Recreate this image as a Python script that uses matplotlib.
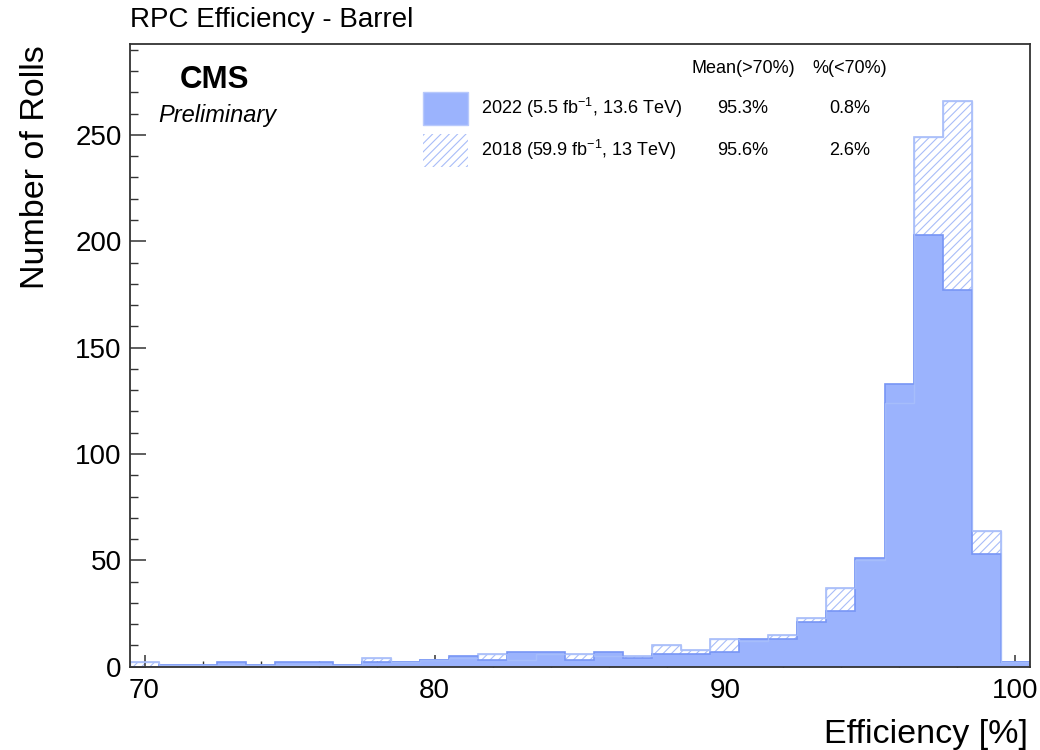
import matplotlib
matplotlib.use("Agg")
import matplotlib.pyplot as plt
from matplotlib.patches import Rectangle
from matplotlib.ticker import MultipleLocator
import numpy as np

plt.rcParams['font.family'] = ['Liberation Sans', 'DejaVu Sans']
plt.rcParams['mathtext.fontset'] = 'custom'
plt.rcParams['mathtext.rm'] = 'Liberation Sans'
plt.rcParams['mathtext.it'] = 'Liberation Sans:italic'
plt.rcParams['hatch.linewidth'] = 0.8

# efficiency bins (centres, 1% wide)
bin_centers = list(range(70, 101))

# number of rolls per bin
rolls_2022 = [0, 1, 1, 2, 1, 2, 2, 1, 2, 2, 3, 5, 3, 7, 7, 3, 7, 4, 6, 6,
              7, 13, 13, 21, 26, 51, 133, 203, 177, 53, 2]
rolls_2018 = [2, 1, 1, 1, 1, 1, 1, 1, 4, 2, 3, 4, 6, 3, 6, 6, 5, 5, 10, 8,
              13, 12, 15, 23, 37, 50, 124, 249, 266, 64, 2]

labels = ["2022 (5.5 fb$^{-1}$, 13.6 TeV)", "2018 (59.9 fb$^{-1}$, 13 TeV)"]
mean_above = ["95.3%", "95.6%"]
frac_below = ["0.8%", "2.6%"]

fill_col = '#9bb3fd'
fill_edge = '#7795f5'
hatch_col = '#a9bdf8'

edges = np.array(bin_centers + [bin_centers[-1] + 1]) - 0.5

fig = plt.figure(figsize=(10.4, 7.5), dpi=100)
ax = fig.add_axes([0.125, 0.111, 0.865, 0.830])

# 2018: hatched, drawn underneath
ax.bar(bin_centers, rolls_2018, width=1.0, facecolor='none', edgecolor=hatch_col,
       hatch='////', linewidth=0, zorder=1)
ax.stairs(rolls_2018, edges, baseline=0, color=hatch_col, lw=1.2, zorder=2)

# 2022: solid fill on top
ax.stairs(rolls_2022, edges, baseline=0, fill=True, color=fill_col, zorder=3)
ax.stairs(rolls_2022, edges, baseline=0, color=fill_edge, lw=1.2, zorder=4)
# faint 2018 outline seen through the fill
ax.stairs(rolls_2018, edges, baseline=0, color='#aac0fb', lw=1.0, zorder=4, alpha=0.8)

ax.set_xlim(69.5, 100.5)
ax.set_ylim(0, 292.6)

ax.xaxis.set_major_locator(MultipleLocator(10))
ax.xaxis.set_minor_locator(MultipleLocator(2))
ax.yaxis.set_major_locator(MultipleLocator(50))
ax.yaxis.set_minor_locator(MultipleLocator(10))
ax.tick_params(axis='both', which='both', direction='in', top=False, right=False,
               colors='#333333', labelcolor='black', labelsize=20)
ax.tick_params(axis='y', which='major', length=11.5, width=1.1, pad=6)
ax.tick_params(axis='y', which='minor', length=5.8, width=1.0)
ax.tick_params(axis='x', which='major', length=8.6, width=1.1, pad=8)
ax.tick_params(axis='x', which='minor', length=4.3, width=1.0)
for sp in ax.spines.values():
    sp.set_color('#333333')
    sp.set_linewidth(1.3)
    sp.set_zorder(6)

fig.text(0.125, 0.973, "RPC Efficiency - Barrel", fontsize=20, ha='left', va='center')
fig.text(0.034, 0.94, "Number of Rolls", fontsize=24.5, rotation=90, ha='center', va='top')
fig.text(0.988, 0.02, "Efficiency [%]", fontsize=24.5, ha='right', va='center')

ax.text(0.094, 0.942, "CMS", transform=ax.transAxes, fontsize=22.5, fontweight='bold',
        ha='center', va='center')
ax.text(0.097, 0.886, "Preliminary", transform=ax.transAxes, fontsize=17, style='italic',
        ha='center', va='center')

# legend table
ax.text(0.682, 0.961, "Mean(>70%)", transform=ax.transAxes, fontsize=13, ha='center', va='center')
ax.text(0.800, 0.961, "%(<70%)", transform=ax.transAxes, fontsize=13, ha='center', va='center')
row_y = [0.897, 0.830]
ax.add_patch(Rectangle((0.3256, 0.870), 0.05, 0.053, transform=ax.transAxes,
                       facecolor=fill_col, edgecolor='#b8c9fc', lw=1, zorder=7))
ax.add_patch(Rectangle((0.3256, 0.8026), 0.05, 0.054, transform=ax.transAxes,
                       facecolor='none', edgecolor=hatch_col, hatch='////', lw=0, zorder=7))
for i in range(2):
    ax.text(0.39, row_y[i], labels[i], transform=ax.transAxes, fontsize=13,
            ha='left', va='center')
    ax.text(0.681, row_y[i], mean_above[i], transform=ax.transAxes, fontsize=13,
            ha='center', va='center')
    ax.text(0.800, row_y[i], frac_below[i], transform=ax.transAxes, fontsize=13,
            ha='center', va='center')

fig.savefig("out.png", dpi=100)
